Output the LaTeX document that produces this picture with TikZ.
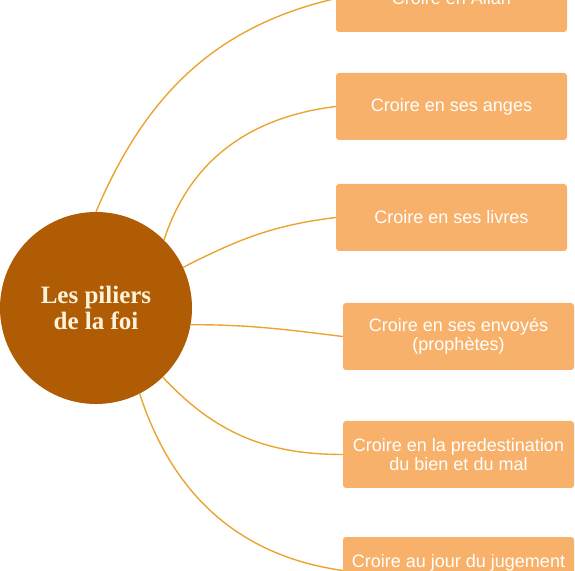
\documentclass[tikz,border=0pt]{standalone}
\usepackage{fontspec}
\setmainfont{Liberation Sans}
\newfontfamily\titlefont{Liberation Serif}
\usepackage{tikz}
\usepackage{xcolor}
\usetikzlibrary{positioning}
\definecolor{brunfoi}{HTML}{B05C05}
\definecolor{orangebox}{HTML}{F8B16A}
\definecolor{orlien}{HTML}{EBA430}
\definecolor{creme}{HTML}{FDF3DC}
\tikzstyle{centre} = [circle, 
minimum size=192pt, 
inner sep=0pt,
fill=brunfoi, 
text=creme,
align=center,
font=\titlefont\bfseries\fontsize{25}{26}\selectfont]
\tikzstyle{pilier} = [rectangle, rounded corners=3pt, 
minimum width=231pt, 
minimum height=67pt,
inner sep=0pt,
text centered, 
align=center,
fill=orangebox,
text=white,
font=\fontsize{18}{19}\selectfont]
\tikzstyle{lien} = [orlien, line width=1.4pt]

\begin{document}
\begin{tikzpicture}[x=1pt, y=1pt]
        \useasboundingbox (0,0) rectangle (575,570);
        
        % --- Noeuds ---
        \node (foi) [centre] at (96,262) {Les piliers\\de la foi};
        \node (allah) [pilier] at (451.5,571.5) {Croire en Allah};
        \node (anges) [pilier] at (451.5,463.5) {Croire en ses anges};
        \node (livres) [pilier] at (451.5,352.5) {Croire en ses livres};
        \node (envoyes) [pilier] at (458.5,233.5) {Croire en ses envoyés\\(prophètes)};
        \node (destin) [pilier] at (458.5,115.5) {Croire en la predestination\\du bien et du mal};
        \node (jugement) [pilier] at (458.5,-0.5) {Croire au jour du jugement\\\mbox{}};

        % --- Liens ---
        \draw [lien] (foi.90) to[out=67, in=193] (allah.west);
        \draw [lien] (foi.45) to[out=72, in=187] (anges.west);
        \draw [lien] (foi.25) to[out=27, in=187] (livres.west);
        \draw [lien] (foi.-10) to[out=0, in=173] (envoyes.west);
        \draw [lien] (foi.-46) to[out=-47, in=180] (destin.west);
        \draw [lien] (foi.-63) to[out=-72, in=172] (jugement.west);

    \end{tikzpicture}
\end{document}
